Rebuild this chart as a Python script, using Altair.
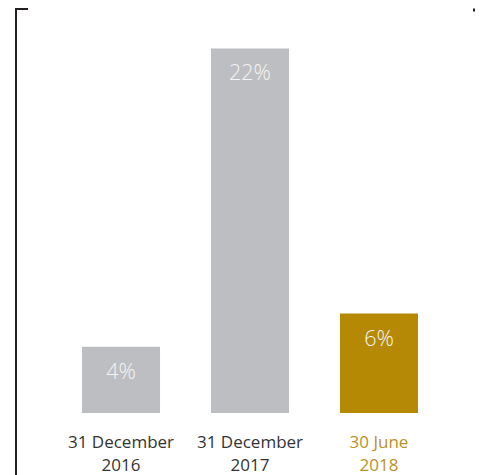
import altair as alt
import pandas as pd

categories = ["31 December|2016", "31 December|2017", "30 June|2018"]
values = [4, 22, 6]
value_labels = ["4%", "22%", "6%"]
bar_colors = ["#bdbec1", "#bdbec1", "#b58903"]

df = pd.DataFrame({
    "cat": categories,
    "val": values,
    "lab": value_labels,
    "color": bar_colors,
})

FONT = "Open Sans"

x = alt.X("cat:N", sort=categories, title=None,
          scale=alt.Scale(range=[74, 410], paddingInner=0.395, paddingOuter=0),
          axis=alt.Axis(labelExpr="split(datum.label, '|')", labelAngle=0,
                        labelFont=FONT, labelFontSize=17, labelFontWeight=400,
                        labelLineHeight=23,
                        labelColor=alt.expr("indexof(datum.label, 'June') >= 0 ? '#b8912a' : '#333333'"),
                        labelPadding=21, ticks=False, domain=False, grid=False,
                        labelBaseline="top"))
y = alt.Y("val:Q", title=None, scale=alt.Scale(domain=[0, 24.44], nice=False, zero=True),
          axis=None)

bars = alt.Chart(df).mark_bar().encode(
    x=x, y=y, color=alt.Color("color:N", scale=None)
)

texts = alt.Chart(df).mark_text(
    baseline="middle", dy=26, font=FONT, fontSize=21.5, fontWeight=300, color="#f4f4f4"
).encode(x=x, y=y, text="lab:N")

deco = pd.DataFrame({"k": [0]})
vline = alt.Chart(deco).mark_rule(color="#231f20", strokeWidth=2).encode(
    x=alt.value(8), y=alt.value(0), y2=alt.value(467))
hline = alt.Chart(deco).mark_rule(color="#231f20", strokeWidth=2).encode(
    x=alt.value(7), x2=alt.value(20), y=alt.value(1))
rdash = alt.Chart(deco).mark_rule(color="#231f20", strokeWidth=3).encode(
    x=alt.value(465), x2=alt.value(475), y=alt.value(2))

chart = alt.layer(bars, texts, vline, hline, rdash).properties(
    width=467, height=405,
    autosize=alt.AutoSizeParams(type="none"),
    padding={"left": 0, "top": 0, "right": 0, "bottom": 62},
    background="white",
).configure_view(stroke=None)

chart.save("out.html", embed_options={"renderer": "svg", "actions": False})
